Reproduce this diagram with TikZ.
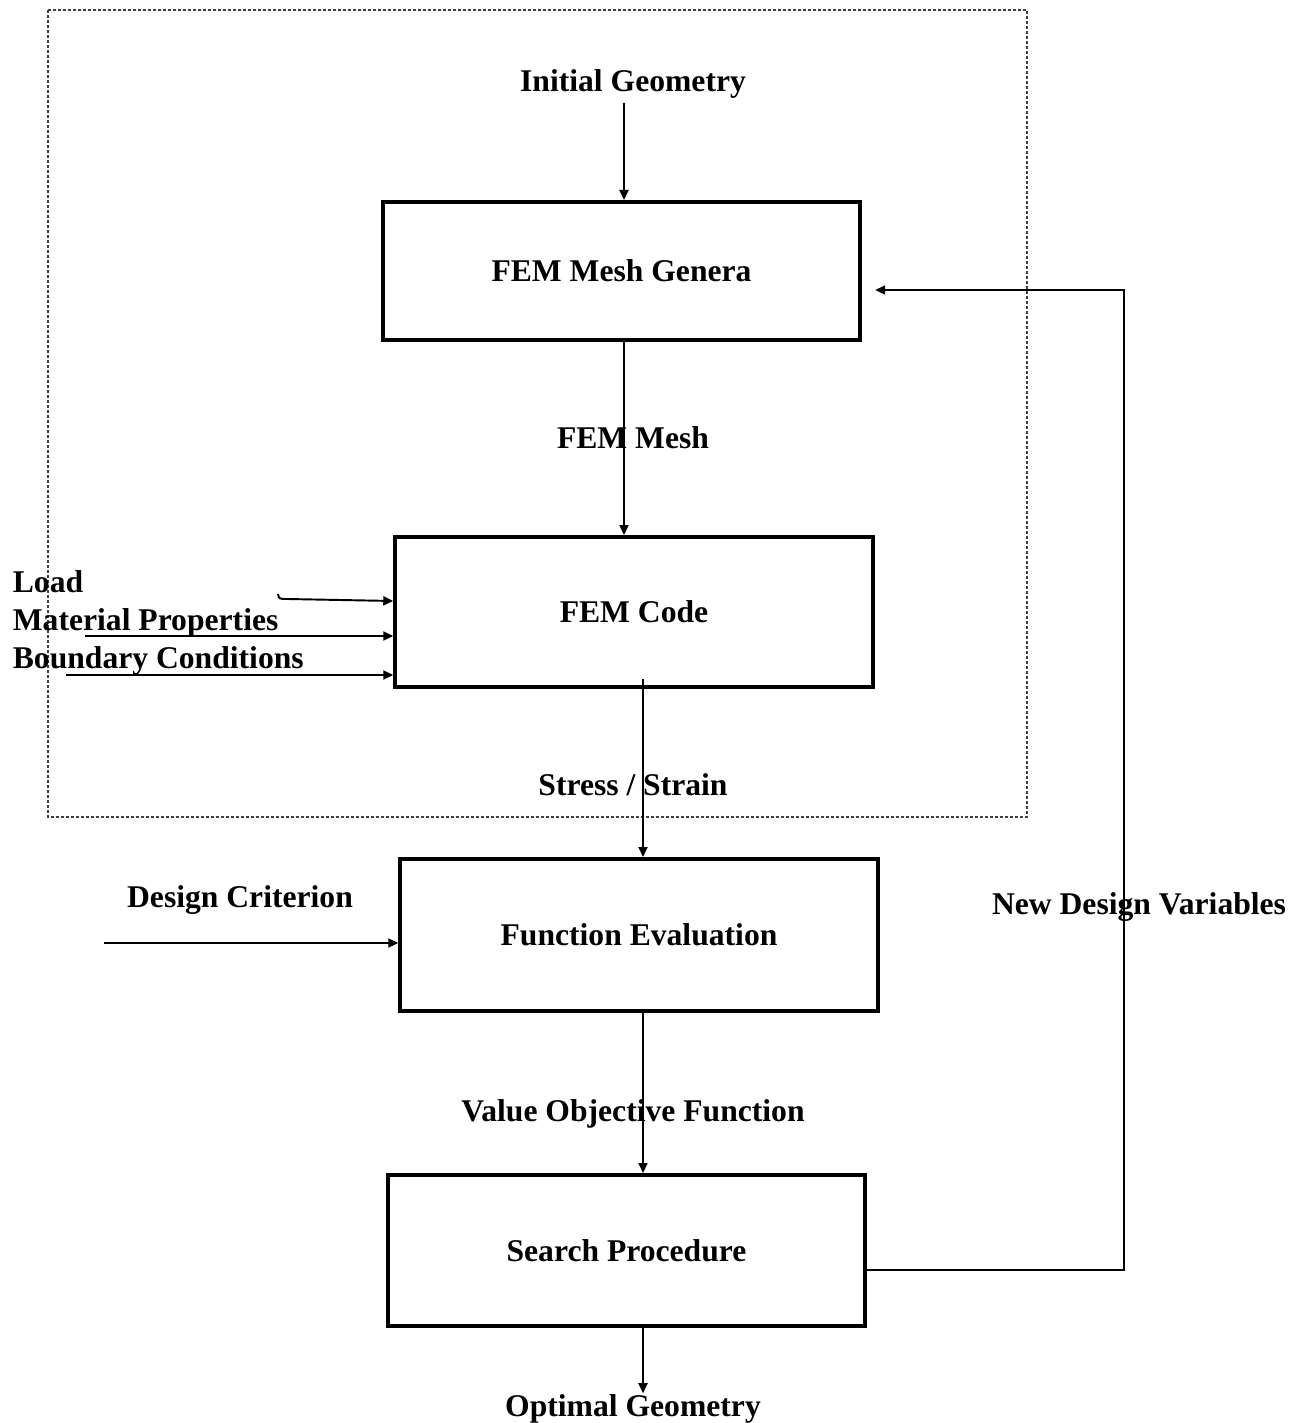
\documentclass[tikz,border=0pt]{standalone}
\usepackage{fontspec}
\setmainfont{Liberation Serif}
\usetikzlibrary{arrows.meta,positioning}

\begin{document}
\begin{tikzpicture}[x=0.02cm,y=-0.02cm,>={Triangle[length=2mm,width=1.8mm]}]
  \tikzstyle{box}=[draw,line width=2.3pt,minimum width=9.55cm,align=center,font=\fontsize{18}{21}\selectfont\bfseries]
  \tikzstyle{lbl}=[font=\fontsize{18}{21}\selectfont\bfseries,inner sep=2pt,text height=0.7em,text depth=0.2em]
  \tikzstyle{arr}=[line width=1.1pt,->]
  \useasboundingbox (0,0) rectangle (1298,1423);
  % dashed frame round mesh generation and FE analysis
  \draw[line width=0.6pt,dash pattern=on 0.06cm off 0.04cm,black!75] (48,10) rectangle (1027,817);
  \node[box,minimum height=2.76cm] (mesh) at (621.5,271) {FEM Mesh Genera};
  \node[box,minimum height=3.0cm] (code) at (634,612) {FEM Code};
  \node[box,minimum height=3.04cm] (eval) at (639,935) {Function Evaluation};
  \node[box,minimum height=3.02cm] (search) at (626.5,1250.5) {Search Procedure};
  \node[lbl] (ig) at (633,87) {Initial Geometry};
  \node[lbl] (ml) at (633,444) {FEM Mesh};
  \node[lbl] (ss) at (633,791) {Stress / Strain};
  \node[lbl] (vo) at (633,1117) {Value Objective Function};
  \node[lbl,inner sep=6pt] (opt) at (633,1412) {Optimal Geometry};
  \node[lbl] (dcl) at (240,903) {Design Criterion};
  \node[lbl] (nd) at (1139,910) {New Design Variables};
  \node[lbl,anchor=base west,text height=,text depth=] (ld) at (9,592) {Load};
  \node[lbl,anchor=base west,text height=,text depth=] (mp) at (9,630) {Material Properties};
  \node[lbl,anchor=base west,text height=,text depth=] (bc) at (9,668) {Boundary Conditions};
  % main chain
  \draw[arr] ([shift={(2.5,4)}]ig.south -| mesh.north) -- ([xshift=0.05cm]mesh.north);
  \draw[arr] ([xshift=0.05cm]mesh.south) -- ([xshift=0.05cm]mesh.south |- code.north);
  \draw[arr] ([shift={(9,-10)}]code.south) -- ([xshift=0.08cm]eval.north);
  \draw[arr] ([xshift=0.08cm]eval.south) -- ([xshift=0.08cm]eval.south |- search.north);
  \draw[arr] ([xshift=0.2cm]opt.north |- search.south) -- ([xshift=0.2cm]opt.north);
  % inputs to the FE analysis
  \coordinate (ldin) at (278,594);
  \coordinate (mpin) at (85,636);
  \coordinate (bcin) at (66,675);
  \draw[arr] (ldin) .. controls (279,599) .. (288,599) -- (code.west |- 0,601);
  \draw[arr] (mpin) -- (code.west |- mpin);
  \draw[arr] (bcin) -- (code.west |- bcin);
  \coordinate (dcin) at (104,943);
  \draw[arr] (dcin) -- (eval.west |- dcin);
  % feedback loop
  \coordinate (turn) at (1124,290);
  \draw[arr] (search.east |- 0,1270) -| (turn) -- ([shift={(13,0)}]mesh.east |- turn);
\end{tikzpicture}
\end{document}
